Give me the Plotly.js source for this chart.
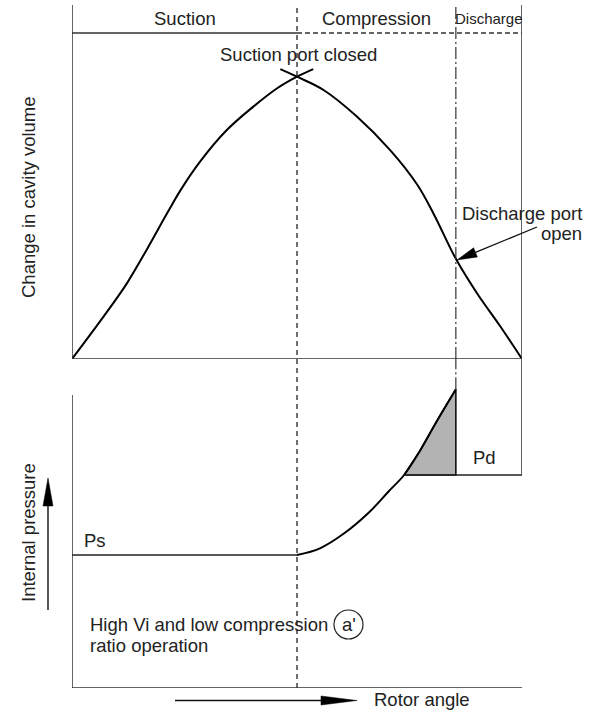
<!DOCTYPE html>
<html>
<head>
<meta charset="utf-8">
<script src="https://cdn.plot.ly/plotly-3.0.1.min.js"></script>
<style>html,body{margin:0;padding:0;background:#fff;}#chart{width:596px;height:712px;}</style>
</head>
<body>
<div id="chart"></div>
<script>
// ---- Data (rotor angle in % of cycle, volume normalised, pressure in arbitrary units) ----
const phaseLabels = ["Suction", "Compression", "Discharge"];
const SUCTION_CLOSE = 50;      // rotor angle where suction port closes
const DISCHARGE_OPEN = 85.3;   // rotor angle where discharge port opens
const ANGLE_END = 100;

// cavity volume: rising branch (continues past the peak to form the cross)
const xVolRise = [0, 7.0, 12.2, 16.7, 21.1, 24.2, 28.5, 34.4, 40.3, 45.6, 50, 53.6];
const vVolRise = [0, 0.150, 0.268, 0.390, 0.515, 0.600, 0.700, 0.811, 0.894, 0.959, 1.0, 1.027];
// cavity volume: falling branch
const xVolFall = [46.3, 50, 55.9, 63.3, 70.7, 76.7, 80.4, 85.3, 90.0, 95.2, 100];
const vVolFall = [1.027, 1.0, 0.953, 0.859, 0.740, 0.618, 0.513, 0.355, 0.233, 0.115, 0];

// internal pressure during compression
const xPress = [50, 55.1, 60.5, 65.8, 70.3, 73.8, 77.2, 81.0, 85.3];
const pPress = [133, 139.7, 154.7, 174.7, 196.3, 213, 236.3, 266.3, 298.7];
const PS = 133;  // suction pressure
const PD = 213;  // discharge pressure

// ---- layout helpers ----
const FONT = "Liberation Sans, Arial, sans-serif";
const PLOT_TOP = 5, PLOT_BOTTOM = 688, PLOT_H = PLOT_BOTTOM - PLOT_TOP;
const L = 72, W = 450;
const py = p => (PLOT_BOTTOM - p) / PLOT_H;   // pixel y -> paper y
const px = p => (p - L) / W;                  // pixel x -> paper x
const Y_TOP = 1.254, HEADER = 1.155, Y2_TOP = 329, LEFT2_TOP = 293;
const split = py(359);

// shaded over-compression region
const shadeX = [], shadeY = [];
xPress.forEach((x, i) => { if (pPress[i] >= PD) { shadeX.push(x); shadeY.push(pPress[i]); } });
shadeX.push(DISCHARGE_OPEN); shadeY.push(PD);
shadeX.push(shadeX[0]); shadeY.push(shadeY[0]);

const blk = {color: "#000", width: 2};
const traces = [
  {x: shadeX, y: shadeY, yaxis: "y2", mode: "lines", fill: "toself", fillcolor: "#b3b3b3",
   line: {color: "#111", width: 1.6}, hoverinfo: "skip"},
  {x: xVolRise, y: vVolRise, mode: "lines", line: Object.assign({shape: "spline", smoothing: 1}, blk)},
  {x: xVolFall, y: vVolFall, mode: "lines", line: Object.assign({shape: "spline", smoothing: 1}, blk)},
  {x: xPress, y: pPress, yaxis: "y2", mode: "lines", line: Object.assign({shape: "spline", smoothing: 1}, blk)},
  {x: [0, SUCTION_CLOSE], y: [PS, PS], yaxis: "y2", mode: "lines", line: {color: "#222", width: 1.6}},
  {x: [shadeX[0], ANGLE_END], y: [PD, PD], yaxis: "y2", mode: "lines", line: {color: "#222", width: 1.6}}
];

// arrow helper (pixel coords -> paper shapes)
function arrow(x0, y0, x1, y1, headLen, headHalf, width) {
  const dx = x1 - x0, dy = y1 - y0, len = Math.hypot(dx, dy);
  const ux = dx / len, uy = dy / len, nx = -uy, ny = ux;
  const bx = x1 - ux * headLen, by = y1 - uy * headLen;
  const P = (x, y) => px(x) + "," + py(y);
  return [
    {type: "line", xref: "paper", yref: "paper", x0: px(x0), y0: py(y0), x1: px(bx), y1: py(by), line: {color: "#111", width: width}},
    {type: "path", xref: "paper", yref: "paper",
     path: "M" + P(x1, y1) + " L" + P(bx + nx * headHalf, by + ny * headHalf) + " L" + P(bx - nx * headHalf, by - ny * headHalf) + " Z",
     fillcolor: "#000", line: {color: "#000", width: 0.5}}
  ];
}

const frame = {color: "#333", width: 1.5};
const dashdot = {color: "#333", width: 1.2, dash: "12px,3px,2px,3px"};
let shapes = [
  {type: "line", xref: "x", yref: "y", x0: 0, x1: 0, y0: 0, y1: Y_TOP, line: frame},
  {type: "line", xref: "x", yref: "y", x0: 0, x1: ANGLE_END, y0: 0, y1: 0, line: frame},
  {type: "line", xref: "x", yref: "y", x0: 0, x1: SUCTION_CLOSE, y0: HEADER, y1: HEADER, line: frame},
  {type: "line", xref: "x", yref: "y", x0: SUCTION_CLOSE, x1: ANGLE_END, y0: HEADER, y1: HEADER, line: {color: "#333", width: 1.5, dash: "5px,3px"}},
  {type: "line", xref: "x", yref: "y", x0: ANGLE_END, x1: ANGLE_END, y0: 0, y1: Y_TOP, line: frame},
  {type: "line", xref: "x", yref: "y2", x0: ANGLE_END, x1: ANGLE_END, y0: PD, y1: Y2_TOP, line: frame},
  {type: "line", xref: "x", yref: "paper", x0: SUCTION_CLOSE, x1: SUCTION_CLOSE, y0: 0, y1: 1, line: {color: "#222", width: 1.3, dash: "5px,4px"}},
  {type: "line", xref: "x", yref: "y", x0: DISCHARGE_OPEN, x1: DISCHARGE_OPEN, y0: 0, y1: Y_TOP, line: dashdot},
  {type: "line", xref: "x", yref: "y2", x0: DISCHARGE_OPEN, x1: DISCHARGE_OPEN, y0: pPress[pPress.length - 1], y1: Y2_TOP, line: dashdot},
  {type: "line", xref: "x", yref: "y2", x0: 0, x1: 0, y0: 0, y1: LEFT2_TOP, line: frame},
  {type: "line", xref: "x", yref: "y2", x0: 0, x1: ANGLE_END, y0: 0, y1: 0, line: frame},
  {type: "circle", xref: "paper", yref: "paper", x0: px(334), x1: px(363), y0: py(639), y1: py(610), line: {color: "#222", width: 1.2}}
];
shapes = shapes
  .concat(arrow(537, 227, 457, 260, 20, 5, 1.3))
  .concat(arrow(175, 700.5, 357, 700.5, 36, 4.5, 1.4))
  .concat(arrow(48, 610, 48, 478, 28, 5, 1.4));

const f = (s, c) => ({family: FONT, size: s, color: c || "#222"});
const T = (x, y, text, opts) => Object.assign({xref: "paper", yref: "paper", x: px(x), y: py(y), text: text,
  showarrow: false, xanchor: "center", yanchor: "middle", font: f(18.5)}, opts || {});
const ann = [
  T(185, 18, phaseLabels[0]),
  T(376.5, 18, phaseLabels[1]),
  T(489, 18, phaseLabels[2], {font: {family: "Liberation Sans Narrow, Liberation Sans, Arial", size: 15, color: "#222"}}),
  T(298, 55, "Suction port closed"),
  T(584, 213, "Discharge port", {xanchor: "right"}),
  T(584, 233, "open", {xanchor: "right"}),
  T(484, 457, "Pd"),
  T(82, 540, "Ps", {xanchor: "left"}),
  T(88, 624, "High Vi and low compression", {xanchor: "left"}),
  T(88, 645, "ratio operation", {xanchor: "left"}),
  T(348.5, 624, "a'"),
  T(372, 700, "Rotor angle", {xanchor: "left"}),
  T(28, 197, "Change in cavity volume", {textangle: -90}),
  T(28, 533, "Internal pressure", {textangle: -90})
];

const layout = {
  width: 596, height: 712,
  margin: {l: 72, r: 74, t: 5, b: 24, pad: 0},
  paper_bgcolor: "#fff", plot_bgcolor: "#fff",
  showlegend: false,
  xaxis: {range: [0, ANGLE_END], visible: false, fixedrange: true},
  yaxis: {domain: [split, 1], range: [0, Y_TOP], visible: false},
  yaxis2: {domain: [0, split], range: [0, Y2_TOP], visible: false},
  shapes: shapes,
  annotations: ann
};
Plotly.newPlot("chart", traces, layout, {staticPlot: true, displayModeBar: false});
</script>
</body>
</html>
